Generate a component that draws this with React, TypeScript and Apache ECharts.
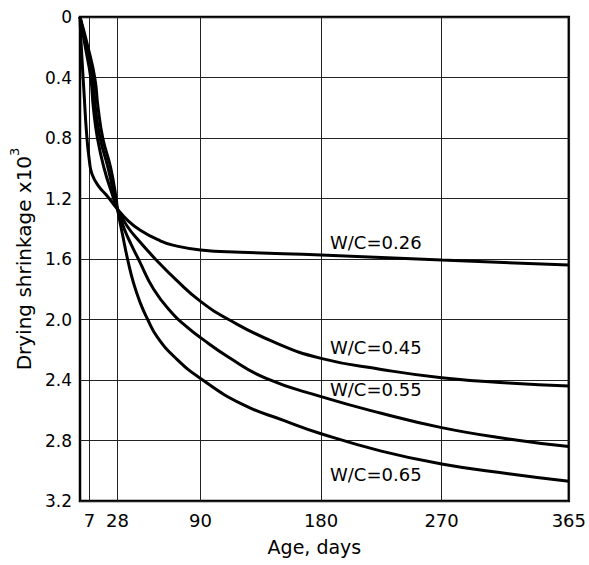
import React, { useEffect, useRef } from "react";
import * as echarts from "echarts";

const dayTicks = [7, 28, 90, 180, 270, 365];

const wc026Days = [0, 1, 3, 5, 7, 9, 14, 20, 28, 35, 45, 60, 70, 90, 120, 180, 270, 365];
const wc026Vals = [0, 0.2, 0.5, 0.78, 0.95, 1.04, 1.12, 1.18, 1.27, 1.34, 1.41, 1.48, 1.51, 1.54, 1.555, 1.574, 1.607, 1.64];

const wc045Days = [0, 4, 8, 10, 13, 18, 24, 28, 35, 44, 57, 72, 90, 111, 145, 180, 225, 270, 320, 365];
const wc045Vals = [0, 0.2, 0.4, 0.6, 0.8, 1.0, 1.17, 1.27, 1.38, 1.48, 1.607, 1.74, 1.88, 2.0, 2.15, 2.257, 2.33, 2.385, 2.42, 2.44];

const wc055Days = [0, 5, 9.5, 11.5, 15, 21, 26, 28, 33, 38, 44, 55, 69, 80, 90, 111, 139, 180, 225, 270, 320, 365];
const wc055Vals = [0, 0.2, 0.4, 0.6, 0.8, 1.0, 1.2, 1.27, 1.4, 1.5, 1.607, 1.8, 1.96, 2.05, 2.12, 2.25, 2.39, 2.51, 2.62, 2.715, 2.79, 2.84];

const wc065Days = [0, 6, 11, 13.5, 17, 23, 27, 28, 32, 36, 40, 45, 50, 58, 72, 90, 121, 153, 180, 225, 270, 320, 365];
const wc065Vals = [0, 0.2, 0.4, 0.6, 0.8, 1.0, 1.2, 1.27, 1.45, 1.62, 1.76, 1.89, 1.99, 2.12, 2.26, 2.39, 2.56, 2.67, 2.755, 2.87, 2.955, 3.02, 3.07];

const seriesLabels = ["W/C=0.26", "W/C=0.45", "W/C=0.55", "W/C=0.65"];

const zip = (xs: number[], ys: number[]) => xs.map((x, i) => [x, ys[i]]);

const FONT = '"DejaVu Sans", sans-serif';

export default function App() {
  const ref = useRef<HTMLDivElement>(null);
  useEffect(() => {
    if (!ref.current) return;
    const chart = echarts.init(ref.current, null, { renderer: "svg" });
    const all = [
      zip(wc026Days, wc026Vals),
      zip(wc045Days, wc045Vals),
      zip(wc055Days, wc055Vals),
      zip(wc065Days, wc065Vals),
    ];
    const labelPos = [242.5, 347.5, 389, 474];
    chart.setOption({
      animation: false,
      backgroundColor: "#fff",
      grid: {
        left: 80,
        right: 13,
        top: 17,
        bottom: 64,
        show: true,
        borderColor: "#000",
        borderWidth: 2.5,
        backgroundColor: "transparent",
      },
      xAxis: {
        type: "value",
        min: 0,
        max: 365,
        name: "Age, days",
        nameLocation: "middle",
        nameGap: 36,
        nameTextStyle: {
          fontFamily: FONT,
          fontSize: 19,
          color: "#000",
          padding: [0, 20, 0, 0],
        },
        axisLine: { show: false },
        axisTick: { show: false, customValues: dayTicks },
        axisLabel: {
          customValues: dayTicks,
          fontFamily: FONT,
          fontSize: 18,
          color: "#000",
          margin: 10,
        },
        splitLine: { show: true, lineStyle: { color: "#222", width: 1 } },
      },
      yAxis: {
        type: "value",
        inverse: true,
        min: 0,
        max: 3.2,
        interval: 0.4,
        name: "{n|Drying shrinkage x10}{s|3}",
        nameLocation: "middle",
        nameGap: 44,
        nameTextStyle: {
          fontFamily: FONT,
          fontSize: 20,
          color: "#000",
          rich: {
            n: { fontFamily: FONT, fontSize: 20, color: "#000", lineHeight: 26, verticalAlign: "bottom" },
            s: { fontFamily: FONT, fontSize: 13, color: "#000", lineHeight: 26, verticalAlign: "top" },
          },
        },
        axisLine: { show: false },
        axisTick: { show: false },
        axisLabel: {
          fontFamily: FONT,
          fontSize: 17,
          color: "#000",
          margin: 8,
          formatter: (v: number) => (v === 0 ? "0" : v.toFixed(1)),
        },
        splitLine: { show: true, lineStyle: { color: "#222", width: 1 } },
      },
      series: all.map((d, i) => ({
        type: "line",
        name: seriesLabels[i],
        data: d,
        showSymbol: false,
        symbol: "none",
        smooth: 0.5,
        lineStyle: { color: "#000", width: 3 },
        z: 3,
      })),
      graphic: seriesLabels.map((t, i) => ({
        type: "text",
        x: 330,
        y: labelPos[i],
        z: 10,
        style: {
          text: t,
          fill: "#000",
          fontFamily: FONT,
          fontSize: 18,
          verticalAlign: "middle",
          align: "left",
        },
      })),
    });
    return () => chart.dispose();
  }, []);
  return <div ref={ref} style={{ width: 589, height: 565, position: "absolute", left: 0, top: 0 }} />;
}
